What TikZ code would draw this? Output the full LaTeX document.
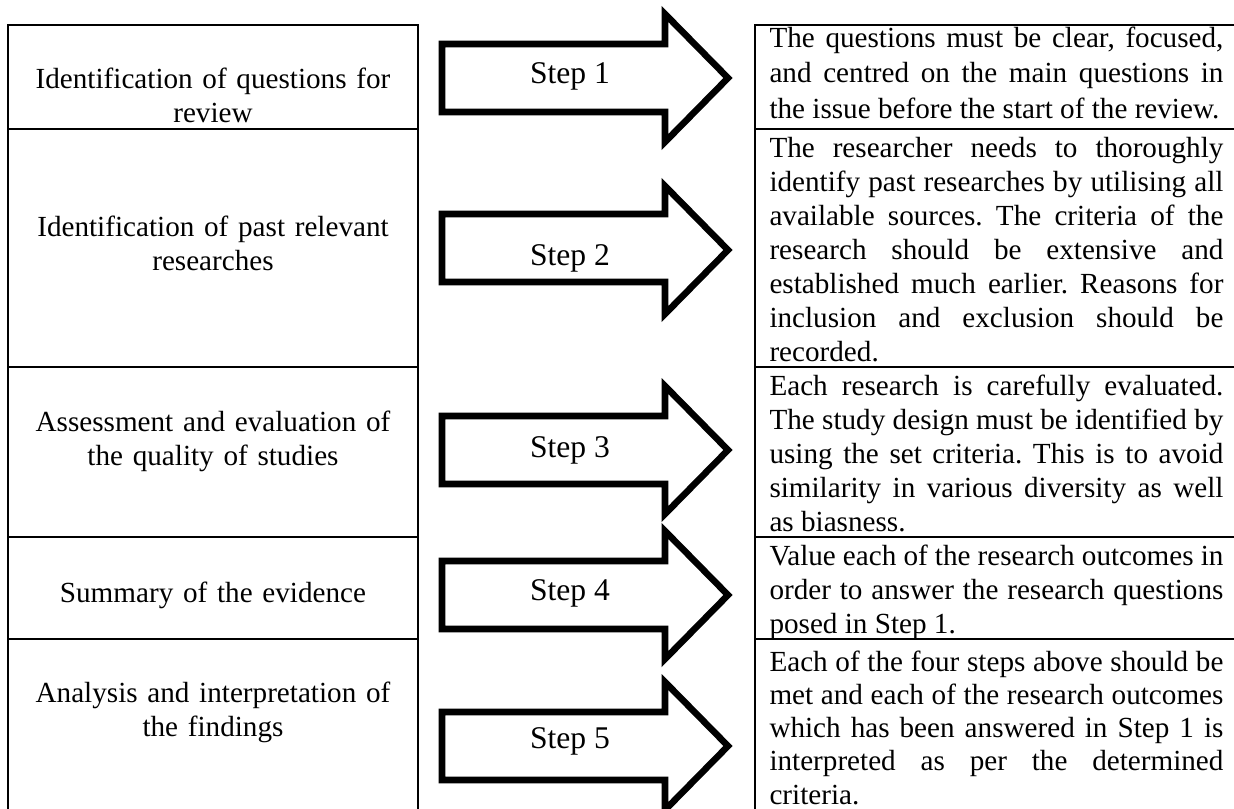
\documentclass[tikz,border=0pt]{standalone}
\usepackage{fontspec}
\setmainfont{Liberation Serif}

\begin{document}
\begin{tikzpicture}[x=0.4115pt, y=-0.4115pt,
		cellline/.style={line width=1.2pt},
		steparrow/.style={line width=2.7pt, miter limit=10},
		topic/.style={text width=175pt, align=center, inner sep=0pt, anchor=base, font=\fontsize{12}{14}\selectfont},
		detail/.style={text width=186.8pt, align=justify, inner sep=0pt, anchor=base west, font=\fontsize{12}{14}\selectfont, execute at begin node={\frenchspacing\hyphenpenalty 10000\relax}},
		steplabel/.style={inner sep=0pt, anchor=base, font=\fontsize{13}{15}\selectfont}]
		\useasboundingbox (0, 0) rectangle (1234, 808);
		\clip (0, 0) rectangle (1234, 808);
		
		\draw[cellline] (8, 25) rectangle (418, 830);
		\draw[cellline] (8, 129) -- (418, 129);
		\draw[cellline] (8, 367) -- (418, 367);
		\draw[cellline] (8, 537) -- (418, 537);
		\draw[cellline] (8, 639) -- (418, 639);
		
		\draw[cellline] (755, 25) rectangle (1270, 830);
		\draw[cellline] (755, 129) -- (1270, 129);
		\draw[cellline] (755, 367) -- (1270, 367);
		\draw[cellline] (755, 537) -- (1270, 537);
		\draw[cellline] (755, 639) -- (1270, 639);
		
		\node[topic] (t1) at (213, 88) {Identification of questions for\\review};
		\node[topic] (t2) at (213, 236) {Identification of past relevant\\researches};
		\node[topic] (t3) at (213, 431) {Assessment and evaluation of\\the quality of studies};
		\node[topic] (t4) at (213, 602) {Summary of the evidence};
		\node[topic] (t5) at (213, 702) {Analysis and interpretation of\\the findings};
		
		\draw[steparrow] (442, 44) -- (665, 44) -- (665, 14) -- (728, 78) -- (665, 142) -- (665, 112) -- (442, 112) -- cycle;
		\draw[steparrow] (442, 214) -- (665, 214) -- (665, 186) -- (728, 250) -- (665, 314) -- (665, 282) -- (442, 282) -- cycle;
		\draw[steparrow] (442, 416) -- (665, 416) -- (665, 386) -- (728, 450) -- (665, 514) -- (665, 484) -- (442, 484) -- cycle;
		\draw[steparrow] (442, 561) -- (665, 561) -- (665, 531) -- (728, 595) -- (665, 659) -- (665, 629) -- (442, 629) -- cycle;
		\draw[steparrow] (442, 712) -- (665, 712) -- (665, 682) -- (728, 746) -- (665, 810) -- (665, 780) -- (442, 780) -- cycle;
		
		\node[steplabel] (s1) at (570, 83) {Step 1};
		\node[steplabel] (s2) at (570, 265) {Step 2};
		\node[steplabel] (s3) at (570, 457) {Step 3};
		\node[steplabel] (s4) at (570, 600) {Step 4};
		\node[steplabel] (s5) at (570, 748) {Step 5};
		
		\node[detail, font=\fontsize{12}{14.8}\selectfont] (d1) at (769, 47) {The questions must be clear, focused,\linebreak and centred on the main questions in\linebreak the issue before the start of the review.};
		\node[detail] (d2) at (769, 157) {The researcher needs to thoroughly\linebreak identify past researches by utilising all\linebreak available sources. The criteria of the\linebreak research should be extensive and\linebreak established much earlier. Reasons for\linebreak inclusion and exclusion should be\linebreak recorded.};
		\node[detail] (d3) at (769, 395) {Each research is carefully evaluated.\linebreak The study design must be identified by\linebreak using the set criteria. This is to avoid\linebreak similarity in various diversity as well\linebreak as biasness.};
		\node[detail] (d4) at (769, 565) {Value each of the research outcomes in\linebreak order to answer the research questions\linebreak posed in Step 1.};
		\node[detail, font=\fontsize{12}{13.7}\selectfont] (d5) at (769, 671) {Each of the four steps above should be\linebreak met and each of the research outcomes\linebreak which has been answered in Step 1 is\linebreak interpreted as per the determined\linebreak criteria.};
	\end{tikzpicture}
\end{document}
